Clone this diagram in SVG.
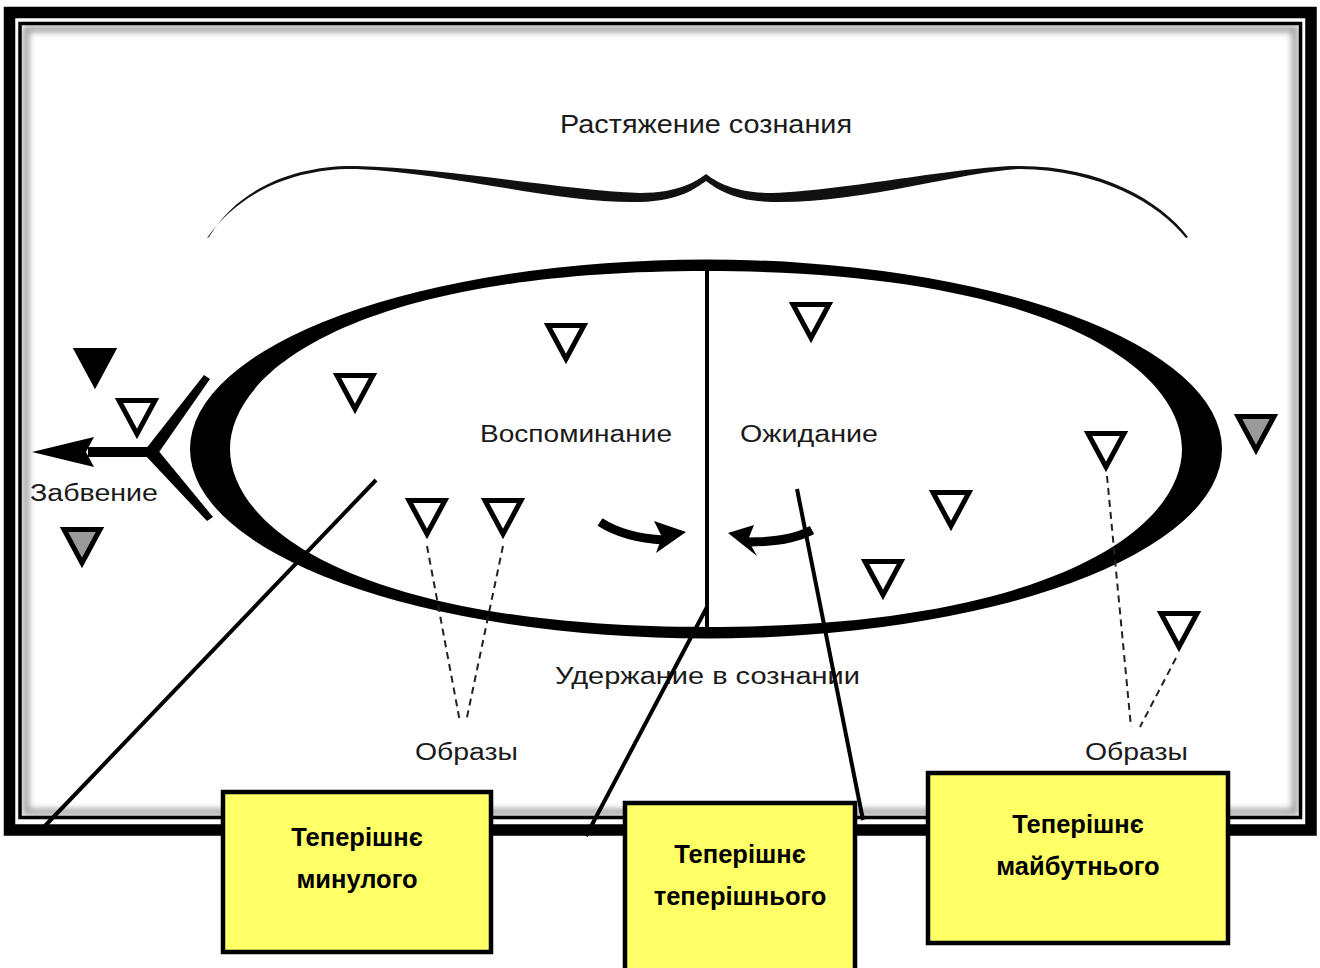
<svg xmlns="http://www.w3.org/2000/svg" xmlns:xlink="http://www.w3.org/1999/xlink" width="1320" height="968" viewBox="0 0 1320 968">
<style>
.lbl{font-family:"Liberation Sans",Arial,sans-serif;font-size:23px;fill:#1a1a1a}
.box{fill:#ffff66;stroke:#000;stroke-width:4.5}
.btxt{font-family:"Liberation Sans",Arial,sans-serif;font-size:25.5px;font-weight:bold;fill:#000;text-anchor:middle}
.ptr{stroke:#000;stroke-width:4;fill:none}
.dash{stroke:#222;stroke-width:2;stroke-dasharray:7,5;fill:none}
.t-open{fill:none}
.t-black{fill:#000}
.t-grey{fill:#9a9a9a}
</style>
<defs>
<path id="tri" d="M-18,2.5 H18 L0,36 Z" stroke="#000" stroke-width="5" stroke-linejoin="miter"/>
<filter id="blur" x="-5%" y="-5%" width="110%" height="110%"><feGaussianBlur stdDeviation="3"/></filter>
</defs>
<rect width="1320" height="968" fill="#fff"/>
<g id="frame">
<rect x="26" y="29" width="1269" height="783" fill="none" stroke="#999" stroke-width="6" filter="url(#blur)"/>
<rect x="20" y="23.5" width="1280.5" height="794" fill="none" stroke="#000" stroke-width="3.5"/>
<rect x="9.5" y="12.5" width="1301.5" height="817.5" fill="none" stroke="#000" stroke-width="11.5"/>
</g>
<g id="brace">
<text class="lbl" x="560" y="133" textLength="292" lengthAdjust="spacingAndGlyphs" style="font-size:25px">Растяжение сознания</text>
<path fill="#111" d="M209,237 C240,185 300,165 356,166 C450,168 560,190 640,193 C680,193 698,180 706,174 C714,180 732,193 772,193 C850,190 960,166 1020,166 C1100,166 1160,200 1188,237 L1186,238 C1158,203 1100,170 1020,169 C960,172 860,204 772,202 C732,201 716,188 706,181 C696,188 680,201 640,202 C560,204 450,173 356,169 C300,168 242,188 207,238 Z"/>
</g>
<g id="ellipse">
<path fill="#000" fill-rule="evenodd" d="M190,449 A516,189.5 0 1,1 1222,449 A516,189.5 0 1,1 190,449 Z M706,271 C1048.7,271 1182,368.4 1182,449 C1182,529.6 1048.7,627 706,627 C363.3,627 230,529.6 230,449 C230,368.4 363.3,271 706,271 Z"/>
<line x1="707" y1="268" x2="707" y2="634" stroke="#000" stroke-width="4"/>
<text class="lbl" x="480" y="442" textLength="192" lengthAdjust="spacingAndGlyphs">Воспоминание</text>
<text class="lbl" x="740" y="442" textLength="138" lengthAdjust="spacingAndGlyphs">Ожидание</text>
<text class="lbl" x="555" y="684" textLength="305" lengthAdjust="spacingAndGlyphs">Удержание в сознании</text>
<path d="M600,522 Q625,538 664,540" stroke="#000" stroke-width="9" fill="none"/>
<polygon points="686,532 654,521 662,537 656,553" fill="#000"/>
<path d="M812,530 Q790,542 748,542" stroke="#000" stroke-width="9" fill="none"/>
<polygon points="728,533 754,525 748,540 757,556" fill="#000"/>
</g>
<g id="forgetting">
<rect x="88" y="447" width="66" height="10" fill="#000"/>
<polygon points="32,452 94,437 86,452 94,467" fill="#000"/>
<polygon points="145,450 204,375 210,379 157,455" fill="#000"/>
<polygon points="145,455 157,449 213,517 207,521" fill="#000"/>
<text class="lbl" x="30" y="501" textLength="128" lengthAdjust="spacingAndGlyphs">Забвение</text>
</g>
<g id="images">
<use xlink:href="#tri" class="t-black" transform="translate(95,348)"/>
<use xlink:href="#tri" class="t-open" transform="translate(137,398)"/>
<use xlink:href="#tri" class="t-grey" transform="translate(82,527)"/>
<use xlink:href="#tri" class="t-grey" transform="translate(1256,414)"/>
<use xlink:href="#tri" class="t-open" transform="translate(1106,431)"/>
<use xlink:href="#tri" class="t-open" transform="translate(1179,611)"/>
<use xlink:href="#tri" class="t-open" transform="translate(355,373)"/>
<use xlink:href="#tri" class="t-open" transform="translate(566,323)"/>
<use xlink:href="#tri" class="t-open" transform="translate(811,302)"/>
<use xlink:href="#tri" class="t-open" transform="translate(951,490)"/>
<use xlink:href="#tri" class="t-open" transform="translate(883,559)"/>
<use xlink:href="#tri" class="t-open" transform="translate(427,498)"/>
<use xlink:href="#tri" class="t-open" transform="translate(503,498)"/>
<text class="lbl" x="415" y="760" textLength="103" lengthAdjust="spacingAndGlyphs">Образы</text>
<text class="lbl" x="1085" y="760" textLength="103" lengthAdjust="spacingAndGlyphs">Образы</text>
</g>
<g id="connectors">
<line class="dash" x1="427" y1="546" x2="460" y2="722"/>
<line class="dash" x1="503" y1="546" x2="466" y2="722"/>
<line class="dash" x1="1107" y1="476" x2="1131" y2="727"/>
<line class="dash" x1="1176" y1="658" x2="1140" y2="727"/>
<line class="ptr" x1="376" y1="480" x2="42" y2="829"/>
<line class="ptr" x1="707" y1="607" x2="586" y2="836"/>
<line class="ptr" x1="797" y1="489" x2="863" y2="820"/>
</g>
<g id="box-past">
<rect class="box" x="223" y="792" width="268" height="160"/>
<text class="btxt" x="357" y="846">Теперішнє</text>
<text class="btxt" x="357" y="888">минулого</text>
</g>
<g id="box-present">
<rect class="box" x="625" y="803" width="230" height="170"/>
<text class="btxt" x="740" y="863">Теперішнє</text>
<text class="btxt" x="740" y="905">теперішнього</text>
</g>
<g id="box-future">
<rect class="box" x="928" y="773" width="300" height="170"/>
<text class="btxt" x="1078" y="833">Теперішнє</text>
<text class="btxt" x="1078" y="875">майбутнього</text>
</g>
</svg>
